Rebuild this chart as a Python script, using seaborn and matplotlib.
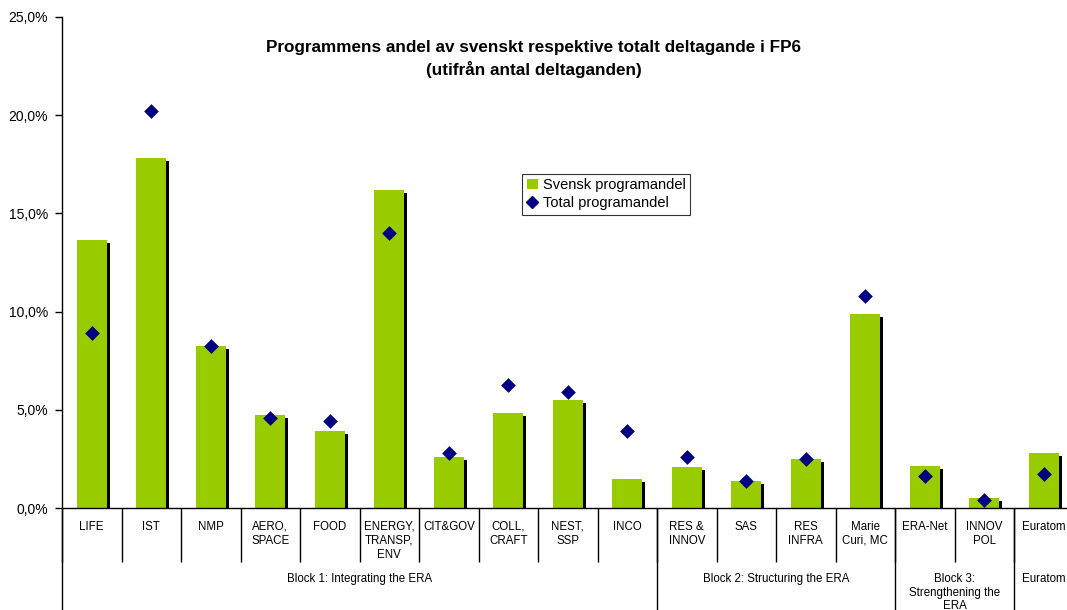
import matplotlib
matplotlib.use("Agg")
import matplotlib.pyplot as plt
import matplotlib.patheffects as pe
from matplotlib.patches import Patch
from matplotlib.lines import Line2D
from matplotlib.ticker import FuncFormatter, FixedLocator
import seaborn as sns
import pandas as pd

categories = ["LIFE", "IST", "NMP", "AERO,\nSPACE", "FOOD", "ENERGY,\nTRANSP,\nENV",
              "CIT&GOV", "COLL,\nCRAFT", "NEST,\nSSP", "INCO", "RES &\nINNOV", "SAS",
              "RES\nINFRA", "Marie\nCuri, MC", "ERA-Net", "INNOV\nPOL", "Euratom"]
svensk = [13.65, 17.8, 8.25, 4.72, 3.92, 16.2, 2.6, 4.83, 5.5, 1.47, 2.09, 1.37,
          2.49, 9.87, 2.14, 0.51, 2.8]
total = [8.9, 20.2, 8.25, 4.58, 4.43, 14.0, 2.8, 6.26, 5.9, 3.92, 2.6, 1.37,
         2.49, 10.8, 1.63, 0.4, 1.73]
groups = ["Block 1: Integrating the ERA", "Block 2: Structuring the ERA",
          "Block 3:\nStrengthening the\nERA", "Euratom"]
group_sizes = [10, 4, 2, 1]

sns.set_style("white")
plt.rcParams["font.family"] = ["Liberation Sans", "DejaVu Sans"]
plt.rcParams["text.color"] = "black"
plt.rcParams["xtick.color"] = "black"
plt.rcParams["ytick.color"] = "black"
plt.rcParams["axes.labelcolor"] = "black"

df = pd.DataFrame({"cat": categories, "svensk": svensk, "total": total})

fig = plt.figure(figsize=(10.67, 6.10), dpi=100)
ax = fig.add_axes([62 / 1067, 1 - 508 / 610, 1011.5 / 1067, 491 / 610])

GREEN = "#99CC00"
NAVY = "#000080"

sns.barplot(data=df, x="cat", y="svensk", color=GREEN, width=0.5, saturation=1,
            ax=ax, zorder=2)
for p in ax.patches:
    p.set_path_effects([pe.SimplePatchShadow(offset=(2.2, -2.2), shadow_rgbFace="black",
                                             alpha=1.0), pe.Normal()])
    p.set_linewidth(0)

sns.stripplot(data=df, x="cat", y="total", color=NAVY, marker="D", size=7.5,
              jitter=False, linewidth=0, ax=ax, zorder=4)

n = len(categories)
ax.set_xlim(-0.5, n - 0.5)
ax.set_ylim(0, 25)
ax.set_xlabel("")
ax.set_ylabel("")

# y axis
ax.set_yticks([0, 5, 10, 15, 20, 25])
ax.yaxis.set_major_formatter(FuncFormatter(lambda v, _: f"{v:.1f}%".replace(".", ",")))
ax.tick_params(axis="y", direction="out", length=5, width=1, color="black",
               labelcolor="black", labelsize=10, pad=5, left=True)

# x axis: labels at centers, dividers at boundaries
ax.set_xticks(range(n))
ax.set_xticklabels(categories, fontsize=8.3, linespacing=1.25)
ax.tick_params(axis="x", which="major", length=0, pad=9, labelcolor="black")
ax.xaxis.set_minor_locator(FixedLocator([i - 0.5 for i in range(n + 1)]))
ax.tick_params(axis="x", which="minor", direction="out", length=39, width=1,
               color="black", bottom=True)

for s in ["top", "right"]:
    ax.spines[s].set_visible(False)
for s in ["left", "bottom"]:
    ax.spines[s].set_color("black")
    ax.spines[s].set_linewidth(1)

# group dividers and labels
trans = ax.get_xaxis_transform()
start = 0
bounds = [-0.5]
for g, size in zip(groups, group_sizes):
    center = start + (size - 1) / 2
    ax.text(center, -0.132, g, transform=trans, ha="center", va="top",
            fontsize=8.3, linespacing=1.2, clip_on=False, color="black")
    start += size
    bounds.append(start - 0.5)
for b in bounds[:-1]:
    ax.plot([b, b], [0, -0.25], transform=trans, color="black", lw=1,
            clip_on=False, zorder=5)

# title
fig.text(0.5, 1 - 59 / 610, "Programmens andel av svenskt respektive totalt deltagande i FP6\n(utifrån antal deltaganden)",
         ha="center", va="center", fontsize=12.3, fontweight="bold", linespacing=1.4,
         color="black")

handles = [Patch(facecolor=GREEN, edgecolor="none", label="Svensk programandel"),
           Line2D([], [], marker="D", color=NAVY, linestyle="none", markersize=6.5,
                  label="Total programandel")]
leg = ax.legend(handles=handles, loc="upper left", bbox_to_anchor=(0.455, 0.68),
                frameon=True, fancybox=False, fontsize=10.5, handlelength=0.8,
                handletextpad=0.3, borderpad=0.3, labelspacing=0.25,
                borderaxespad=0, labelcolor="black")
leg.get_frame().set_edgecolor("black")
leg.get_frame().set_linewidth(0.8)

fig.savefig("out.png", dpi=100)
